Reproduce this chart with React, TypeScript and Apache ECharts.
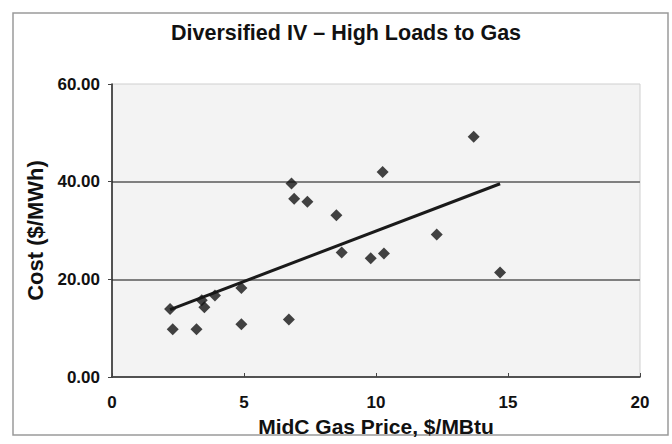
import React, { useEffect, useRef } from "react";
import * as echarts from "echarts";

const titleText = "Diversified IV – High Loads to Gas";
const xAxisTitle = "MidC Gas Price, $/MBtu";
const yAxisTitle = "Cost ($/MWh)";

// MidC gas price ($/MBtu) and cost ($/MWh)
const gasPrice = [2.2, 2.3, 3.2, 3.4, 3.5, 3.9, 4.9, 4.9, 6.7, 6.8, 6.9, 7.4, 8.5, 8.7, 9.8, 10.3, 10.25, 12.3, 13.7, 14.7];
const cost = [13.9, 9.8, 9.8, 15.7, 14.3, 16.7, 18.2, 10.8, 11.8, 39.6, 36.5, 35.9, 33.1, 25.5, 24.3, 25.3, 42.0, 29.2, 49.2, 21.4];

const xTicks = [0, 5, 10, 15, 20];
const yTicks = [0, 20, 40, 60];

function linearFit(xs: number[], ys: number[]) {
  const n = xs.length;
  const mx = xs.reduce((a, b) => a + b, 0) / n;
  const my = ys.reduce((a, b) => a + b, 0) / n;
  let sxy = 0;
  let sxx = 0;
  for (let i = 0; i < n; i++) {
    sxy += (xs[i] - mx) * (ys[i] - my);
    sxx += (xs[i] - mx) * (xs[i] - mx);
  }
  const b = sxy / sxx;
  const a = my - b * mx;
  return { a, b };
}

export default function App() {
  const ref = useRef<HTMLDivElement>(null);
  useEffect(() => {
    if (!ref.current) return;
    const chart = echarts.init(ref.current, null, { renderer: "svg" });
    const points = gasPrice.map((x, i) => [x, cost[i]]);
    const { a, b } = linearFit(gasPrice, cost);
    const minX = Math.min(...gasPrice);
    const maxX = Math.max(...gasPrice);
    const trend = [
      [minX, a + b * minX],
      [maxX, a + b * maxX],
    ];
    const font = "Arial, 'Liberation Sans', sans-serif";
    chart.setOption({
      animation: false,
      backgroundColor: "#ffffff",
      title: {
        text: titleText,
        left: 166,
        top: 17,
        textStyle: { fontFamily: font, fontSize: 21.5, fontWeight: "bold", color: "#111" },
      },
      graphic: [
        {
          type: "rect",
          shape: { x: 13, y: 13, width: 655, height: 422 },
          style: { fill: "none", stroke: "#9a9a9a", lineWidth: 1.5 },
          silent: true,
          z: 0,
        },
      ],
      grid: {
        left: 112,
        right: 32,
        top: 84,
        bottom: 67,
        show: true,
        backgroundColor: "#f3f3f3",
        borderColor: "#cfcfcf",
        borderWidth: 1,
      },
      xAxis: {
        type: "value",
        min: xTicks[0],
        max: xTicks[xTicks.length - 1],
        interval: 5,
        name: xAxisTitle,
        nameLocation: "middle",
        nameGap: 38,
        nameTextStyle: { fontFamily: font, fontSize: 21, fontWeight: "bold", color: "#111" },
        axisLine: { show: true, lineStyle: { color: "#222", width: 1.5 } },
        axisTick: { show: true, inside: true, length: 4, lineStyle: { color: "#444" } },
        axisLabel: { fontFamily: font, fontSize: 17, fontWeight: "bold", color: "#111", margin: 17 },
        splitLine: { show: false },
      },
      yAxis: {
        type: "value",
        min: yTicks[0],
        max: yTicks[yTicks.length - 1],
        interval: 20,
        name: yAxisTitle,
        nameLocation: "middle",
        nameGap: 66,
        nameTextStyle: { fontFamily: font, fontSize: 22, fontWeight: "bold", color: "#111" },
        axisLine: { show: true, lineStyle: { color: "#222", width: 1.5 } },
        axisTick: { show: true, inside: false, length: 4, lineStyle: { color: "#444" } },
        axisLabel: {
          fontFamily: font,
          fontSize: 17,
          fontWeight: "bold",
          color: "#111",
          margin: 12,
          formatter: (v: number) => v.toFixed(2),
        },
        splitLine: {
          show: true,
          showMinLine: false,
          showMaxLine: false,
          lineStyle: { color: "#7f7f7f", width: 1.8 },
        },
      },
      series: [
        {
          type: "line",
          data: trend,
          symbol: "none",
          lineStyle: { color: "#1a1a1a", width: 3 },
          z: 2,
        },
        {
          type: "scatter",
          data: points,
          symbol: "diamond",
          symbolSize: 12,
          itemStyle: { color: "#141414" },
          z: 3,
        },
      ],
    });
    return () => chart.dispose();
  }, []);
  return (
    <div
      ref={ref}
      style={{ position: "absolute", left: 0, top: 0, width: 672, height: 444 }}
    />
  );
}
